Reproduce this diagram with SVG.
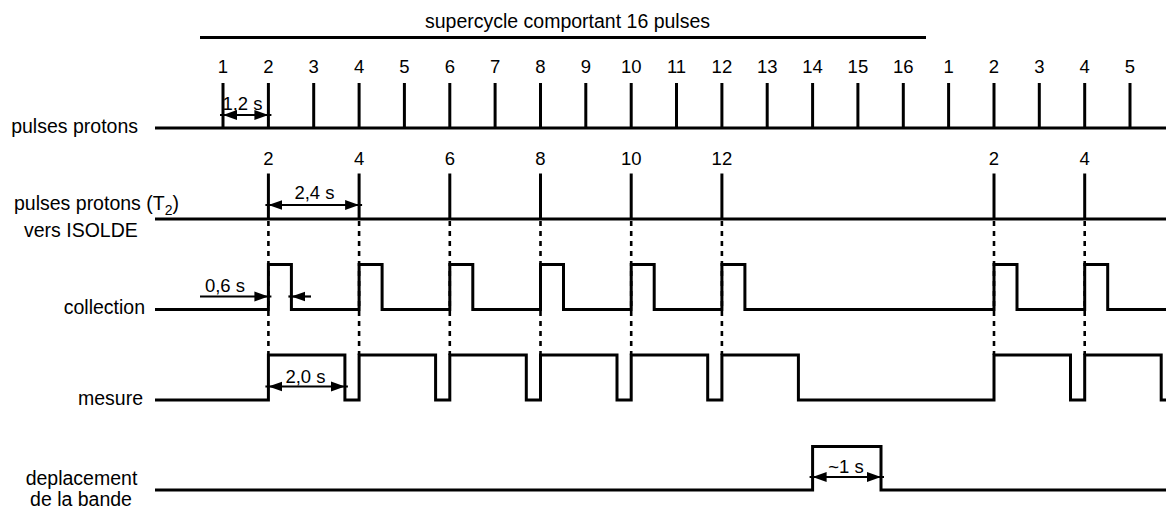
<svg xmlns="http://www.w3.org/2000/svg" width="1166" height="510" viewBox="0 0 1166 510">
<style>
text{font-family:"Liberation Sans",Arial,sans-serif;fill:#000}
.lbl{font-size:19.5px}
.num{font-size:18.5px;text-anchor:middle}
.dim{font-size:18.5px;text-anchor:middle}
.sig{fill:none;stroke:#000;stroke-width:3;stroke-linejoin:miter}
.tick{stroke:#000;stroke-width:3}
.dash{stroke:#000;stroke-width:2.6;stroke-dasharray:5 5}
.arr{stroke:#000;stroke-width:2.2;marker-start:url(#ah);marker-end:url(#ah)}
.arr1{stroke:#000;stroke-width:2.2;marker-end:url(#ah)}
</style>
<defs>
<marker id="ah" markerUnits="userSpaceOnUse" markerWidth="20" markerHeight="12" refX="17" refY="6" orient="auto-start-reverse" viewBox="0 0 20 12">
<path d="M0,1 L14,6 L0,11 Z" fill="#000"/>
</marker>
</defs>

<g id="supercycle">
<line x1="200" y1="37.5" x2="926" y2="37.5" stroke="#000" stroke-width="3.2"/>
<text class="lbl" x="567.5" y="28" text-anchor="middle">supercycle comportant 16 pulses</text>
</g>

<g id="pulses-protons">
<text class="lbl" x="138" y="133" text-anchor="end">pulses protons</text>
<line class="tick" x1="155" y1="128" x2="1166" y2="128"/>
<g class="ticks">
<line class="tick" x1="223" y1="83" x2="223" y2="128"/>
<line class="tick" x1="268.4" y1="83" x2="268.4" y2="128"/>
<line class="tick" x1="313.7" y1="83" x2="313.7" y2="128"/>
<line class="tick" x1="359.1" y1="83" x2="359.1" y2="128"/>
<line class="tick" x1="404.4" y1="83" x2="404.4" y2="128"/>
<line class="tick" x1="449.8" y1="83" x2="449.8" y2="128"/>
<line class="tick" x1="495.1" y1="83" x2="495.1" y2="128"/>
<line class="tick" x1="540.5" y1="83" x2="540.5" y2="128"/>
<line class="tick" x1="585.8" y1="83" x2="585.8" y2="128"/>
<line class="tick" x1="631.2" y1="83" x2="631.2" y2="128"/>
<line class="tick" x1="676.5" y1="83" x2="676.5" y2="128"/>
<line class="tick" x1="721.9" y1="83" x2="721.9" y2="128"/>
<line class="tick" x1="767.2" y1="83" x2="767.2" y2="128"/>
<line class="tick" x1="812.6" y1="83" x2="812.6" y2="128"/>
<line class="tick" x1="857.9" y1="83" x2="857.9" y2="128"/>
<line class="tick" x1="903.3" y1="83" x2="903.3" y2="128"/>
<line class="tick" x1="948.6" y1="83" x2="948.6" y2="128"/>
<line class="tick" x1="994" y1="83" x2="994" y2="128"/>
<line class="tick" x1="1039.3" y1="83" x2="1039.3" y2="128"/>
<line class="tick" x1="1084.7" y1="83" x2="1084.7" y2="128"/>
<line class="tick" x1="1130" y1="83" x2="1130" y2="128"/>
</g>
<g class="nums">
<text class="num" x="223" y="73">1</text>
<text class="num" x="268.4" y="73">2</text>
<text class="num" x="313.7" y="73">3</text>
<text class="num" x="359.1" y="73">4</text>
<text class="num" x="404.4" y="73">5</text>
<text class="num" x="449.8" y="73">6</text>
<text class="num" x="495.1" y="73">7</text>
<text class="num" x="540.5" y="73">8</text>
<text class="num" x="585.8" y="73">9</text>
<text class="num" x="631.2" y="73">10</text>
<text class="num" x="676.5" y="73">11</text>
<text class="num" x="721.9" y="73">12</text>
<text class="num" x="767.2" y="73">13</text>
<text class="num" x="812.6" y="73">14</text>
<text class="num" x="857.9" y="73">15</text>
<text class="num" x="903.3" y="73">16</text>
<text class="num" x="948.6" y="73">1</text>
<text class="num" x="994" y="73">2</text>
<text class="num" x="1039.3" y="73">3</text>
<text class="num" x="1084.7" y="73">4</text>
<text class="num" x="1130" y="73">5</text>
</g>
</g>

<g id="pulses-t2">
<text class="lbl" x="14" y="210">pulses protons (T<tspan font-size="14" dy="5">2</tspan><tspan dy="-5">)</tspan></text>
<text class="lbl" x="24" y="237">vers ISOLDE</text>
<line class="tick" x1="155" y1="219" x2="1166" y2="219"/>
<line class="tick" x1="268.4" y1="173.5" x2="268.4" y2="219"/>
<line class="tick" x1="359.1" y1="173.5" x2="359.1" y2="219"/>
<line class="tick" x1="449.8" y1="173.5" x2="449.8" y2="219"/>
<line class="tick" x1="540.5" y1="173.5" x2="540.5" y2="219"/>
<line class="tick" x1="631.2" y1="173.5" x2="631.2" y2="219"/>
<line class="tick" x1="721.9" y1="173.5" x2="721.9" y2="219"/>
<line class="tick" x1="994" y1="173.5" x2="994" y2="219"/>
<line class="tick" x1="1084.7" y1="173.5" x2="1084.7" y2="219"/>
<text class="num" x="268.4" y="165">2</text>
<text class="num" x="359.1" y="165">4</text>
<text class="num" x="449.8" y="165">6</text>
<text class="num" x="540.5" y="165">8</text>
<text class="num" x="631.2" y="165">10</text>
<text class="num" x="721.9" y="165">12</text>
<text class="num" x="994" y="165">2</text>
<text class="num" x="1084.7" y="165">4</text>
</g>

<g id="collection">
<text class="lbl" x="145" y="314" text-anchor="end">collection</text>
<path class="sig" d="M155,309.5 H268.4 V264.5 H291.4 V309.5 H359.1 V264.5 H382.1 V309.5 H449.8 V264.5 H472.8 V309.5 H540.5 V264.5 H563.5 V309.5 H631.2 V264.5 H654.2 V309.5 H721.9 V264.5 H744.9 V309.5 H994 V264.5 H1017 V309.5 H1084.7 V264.5 H1107.7 V309.5 H1166"/>
</g>

<g id="mesure">
<text class="lbl" x="143" y="405" text-anchor="end">mesure</text>
<path class="sig" d="M155,400 H268.4 V355 H344.9 V400 H359.1 V355 H435.6 V400 H449.8 V355 H526.3 V400 H540.5 V355 H617 V400 H631.2 V355 H707.7 V400 H721.9 V355 H798.4 V400 H994 V355 H1070.5 V400 H1084.7 V355 H1161.2 V400 H1166"/>
</g>

<g id="deplacement">
<text class="lbl" x="81.5" y="485" text-anchor="middle">deplacement</text>
<text class="lbl" x="81" y="506" text-anchor="middle">de la bande</text>
<path class="sig" d="M155,490 H812.6 V446.5 H881 V490 H1166"/>
</g>

<g id="connectors">
<line class="dash" x1="268.4" y1="221" x2="268.4" y2="355"/>
<line class="dash" x1="359.1" y1="221" x2="359.1" y2="355"/>
<line class="dash" x1="449.8" y1="221" x2="449.8" y2="355"/>
<line class="dash" x1="540.5" y1="221" x2="540.5" y2="355"/>
<line class="dash" x1="631.2" y1="221" x2="631.2" y2="355"/>
<line class="dash" x1="721.9" y1="221" x2="721.9" y2="355"/>
<line class="dash" x1="994" y1="221" x2="994" y2="355"/>
<line class="dash" x1="1084.7" y1="221" x2="1084.7" y2="355"/>

<line class="arr" x1="220" y1="115" x2="271.4" y2="115"/>
<text class="dim" x="242.5" y="110">1,2 s</text>

<line class="arr" x1="265.4" y1="205" x2="362.1" y2="205"/>
<text class="dim" x="314.5" y="198.5">2,4 s</text>

<line class="arr1" x1="200" y1="296.5" x2="271.4" y2="296.5"/>
<line class="arr1" x1="311" y1="296.5" x2="288.4" y2="296.5"/>
<text class="dim" x="225" y="292">0,6 s</text>

<line class="arr" x1="265.4" y1="386.5" x2="347.9" y2="386.5"/>
<text class="dim" x="305.5" y="382.5">2,0 s</text>

<line class="arr" x1="809.6" y1="477" x2="884" y2="477"/>
<text class="dim" x="846" y="473">~1 s</text>
</g>
</svg>
